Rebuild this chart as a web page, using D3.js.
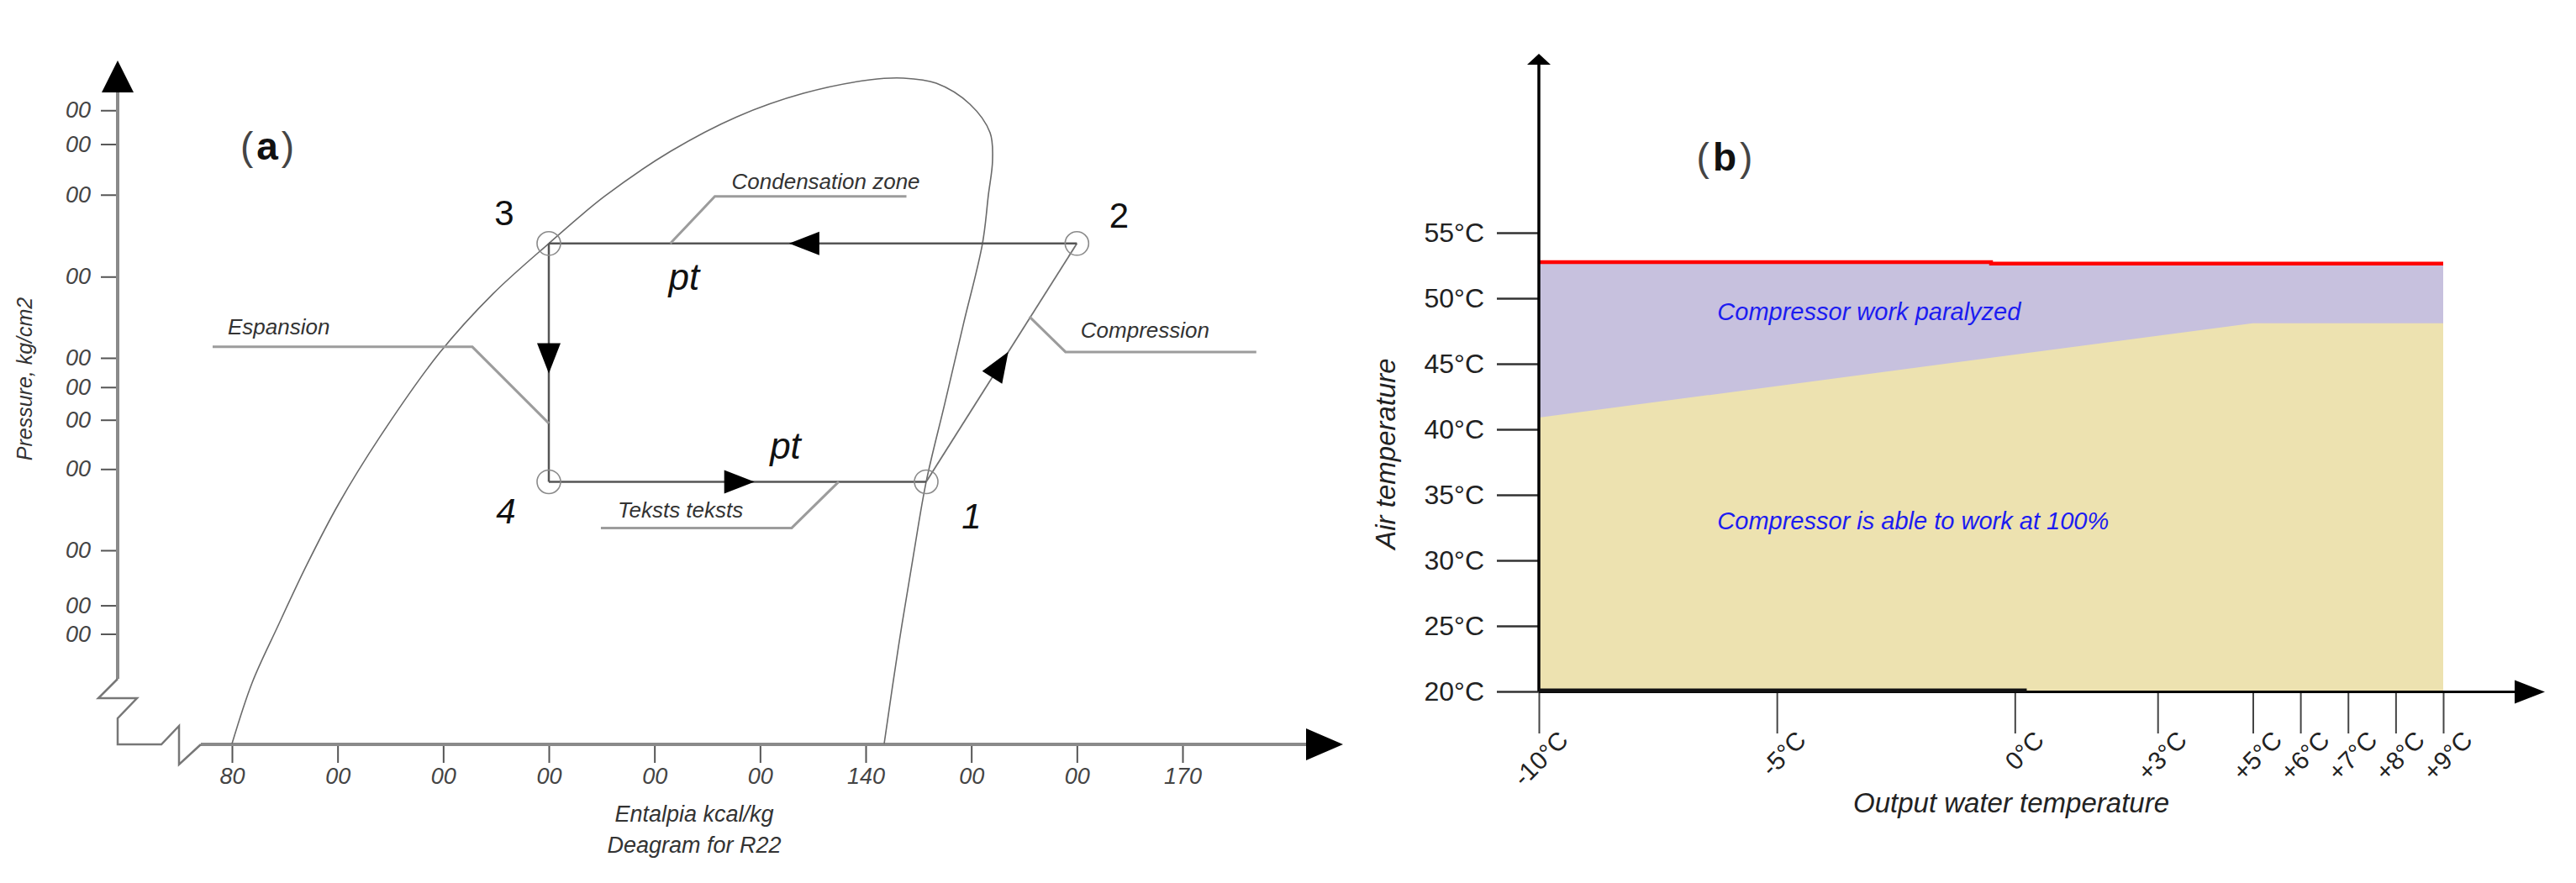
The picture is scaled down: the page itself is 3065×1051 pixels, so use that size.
<!DOCTYPE html>
<html><head><meta charset="utf-8">
<script src="https://cdnjs.cloudflare.com/ajax/libs/d3/7.8.5/d3.min.js"></script>
<style>body{margin:0;background:#fff;}svg{display:block;}</style>
</head><body>
<svg id="c" width="3065" height="1051"></svg>
<script>
// ================= DATA =================
// Panel (a): p-h diagram for R22
const enthalpyTicks = [80, 90, 100, 110, 120, 130, 140, 150, 160, 170];
const enthalpyTickLabels = ["80", "00", "00", "00", "00", "00", "140", "00", "00", "170"];
const pressureTicks = [24.4, 21.6, 18.0, 13.4, 10.0, 9.0, 8.0, 6.7, 5.0, 4.1, 3.7];
const pressureTickLabels = ["00", "00", "00", "00", "00", "00", "00", "00", "00", "00", "00"];
// saturation dome (enthalpy, pressure)
const domeH = [80, 81.9, 84.3, 87.1, 90.1, 94.0, 99.65, 104.7, 110.0, 115.25, 121.54, 127.82, 134.11, 140.4, 143.58, 146.68, 149.87, 151.78, 152.01, 151.62, 151.06, 149.23, 147.48, 145.73, 144.53, 143.1, 141.75];
const domeP = [2.49, 3.10, 3.79, 4.75, 5.91, 7.52, 10.18, 12.59, 15.1, 17.88, 21.05, 23.84, 25.94, 27.23, 27.4, 26.9, 24.94, 22.5, 20.36, 17.99, 15.1, 11.25, 8.47, 6.4, 4.92, 3.53, 2.49];
// refrigeration cycle points
const cycleNames = ["1", "2", "3", "4"];
const cycleH = [145.73, 160, 110, 110];
const cycleP = [6.4, 15.1, 15.1, 6.4];
// annotations
const noteTexts = ["Condensation zone", "Espansion", "Compression", "Teksts teksts"];
const noteH = [121.5, 110, 155.5, 137.45];
const noteP = [15.1, 7.9, 11.6, 6.4];
const ptH = [122.8, 132.4];
const ptP = [15.1, 6.4];

// Panel (b): compressor operating envelope
const waterTicks = [-10, -5, 0, 3, 5, 6, 7, 8, 9];
const waterTickLabels = ["-10°C", "-5°C", "0°C", "+3°C", "+5°C", "+6°C", "+7°C", "+8°C", "+9°C"];
const airTicks = [20, 25, 30, 35, 40, 45, 50, 55];
const airTickLabels = ["20°C", "25°C", "30°C", "35°C", "40°C", "45°C", "50°C", "55°C"];
const boundaryX = [-10, 5, 9];
const boundaryY = [40.9, 48.1, 48.1];
const limitX = [-10, -0.5, -0.5, 9];
const limitY = [52.75, 52.75, 52.65, 52.65];
const regionTexts = ["Compressor work paralyzed", "Compressor is able to work at 100%"];
const regionX = [-6.25, -6.25];
const regionY = [48.33, 32.37];

// ================= DRAW =================
const FONT = "'Liberation Sans', Arial, Helvetica, sans-serif";
const svg = d3.select("#c");
svg.append("rect").attr("width", 3065).attr("height", 1051).attr("fill", "#fff");

function tri(tip, dir, len, half) {
  const [tx, ty] = tip, [ux, uy] = dir;
  const bx = tx - ux * len, by = ty - uy * len, nx = -uy, ny = ux;
  return `M${tx},${ty}L${bx + nx * half},${by + ny * half}L${bx - nx * half},${by - ny * half}Z`;
}

// ---------- Panel (a) ----------
const xA = d3.scaleLinear().domain([80, 170]).range([276, 1407]);
const yA = d3.scaleLog().domain([2.5, 30]).range([884, 63]);
const ox = 140, oy = 886;
const gA = svg.append("g");

// y axis ticks
const yAx = gA.append("g").attr("transform", `translate(${ox},0)`)
  .call(d3.axisLeft(yA).tickValues(pressureTicks).tickFormat((d, i) => pressureTickLabels[i]).tickSize(20).tickPadding(12));
yAx.select(".domain").remove();
yAx.selectAll("line").attr("stroke", "#555").attr("stroke-width", 2);
yAx.selectAll("text").attr("font-family", FONT).attr("font-size", 27).attr("font-style", "italic").attr("fill", "#444");

// x axis ticks
const xAx = gA.append("g").attr("transform", `translate(0,${oy})`)
  .call(d3.axisBottom(xA).tickValues(enthalpyTicks).tickFormat((d, i) => enthalpyTickLabels[i]).tickSize(22).tickPadding(6));
xAx.select(".domain").remove();
xAx.selectAll("line").attr("stroke", "#555").attr("stroke-width", 2);
xAx.selectAll("text").attr("font-family", FONT).attr("font-size", 27).attr("font-style", "italic").attr("fill", "#444");

// axis lines with breaks
gA.append("line").attr("x1", ox).attr("y1", 108).attr("x2", ox).attr("y2", oy - 78)
  .attr("stroke", "#8a8a8a").attr("stroke-width", 4);
gA.append("line").attr("x1", ox + 99).attr("y1", oy).attr("x2", 1556).attr("y2", oy)
  .attr("stroke", "#8a8a8a").attr("stroke-width", 4);
const brk = [[0, -78], [-23, -55], [23, -55], [0, -31], [0, 0], [52, 0], [73, -22], [73, 24], [99, 0]];
gA.append("path").attr("d", d3.line()(brk.map(p => [ox + p[0], oy + p[1]])))
  .attr("fill", "none").attr("stroke", "#777").attr("stroke-width", 2.5);
gA.append("path").attr("d", tri([ox, 72], [0, -1], 38, 19)).attr("fill", "#000");
gA.append("path").attr("d", tri([1598, oy], [1, 0], 44, 19)).attr("fill", "#000");

// dome
const domePts = domeH.map((h, i) => [xA(h), yA(domeP[i])]);
gA.append("path").attr("d", d3.line().curve(d3.curveCatmullRom.alpha(0.5))(domePts))
  .attr("fill", "none").attr("stroke", "#6a6a6a").attr("stroke-width", 1.6);

// cycle
const cyc = cycleH.map((h, i) => [xA(h), yA(cycleP[i])]);
const segs = [[0, 1], [1, 2], [2, 3], [3, 0]];
segs.forEach(([a, b], k) => {
  gA.append("line").attr("x1", cyc[a][0]).attr("y1", cyc[a][1]).attr("x2", cyc[b][0]).attr("y2", cyc[b][1])
    .attr("stroke", k === 0 ? "#707070" : "#555").attr("stroke-width", k === 0 ? 1.8 : 2.5);
});
// leader lines
const leaderOff = [
  [[0, 0], [53, -56], [281, -56]],
  [[0, 0], [-91, -91], [-400, -91]],
  [[0, 0], [43, 42], [270, 42]],
  [[0, 0], [-56, 55], [-283, 55]]
];
const textOff = [[73, -65], [-382, -106], [61, 25], [-263, 43]];
noteTexts.forEach((t, i) => {
  const ax = xA(noteH[i]), ay = yA(noteP[i]);
  const pts = leaderOff[i].map(p => [ax + p[0], ay + p[1]]);
  gA.append("path").attr("d", d3.line()(pts)).attr("fill", "none")
    .attr("stroke", "#9c9c9c").attr("stroke-width", 3);
  gA.append("text").attr("x", ax + textOff[i][0]).attr("y", ay + textOff[i][1])
    .attr("font-family", FONT).attr("font-size", 26).attr("font-style", "italic").attr("fill", "#333").text(t);
});
// arrows on cycle
segs.forEach(([a, b]) => {
  const A = cyc[a], B = cyc[b], f = 0.545;
  const dx = B[0] - A[0], dy = B[1] - A[1], L = Math.hypot(dx, dy);
  const tip = [A[0] + dx * f, A[1] + dy * f];
  gA.append("path").attr("d", tri(tip, [dx / L, dy / L], 36, 14)).attr("fill", "#000");
});
// circles
cyc.forEach(p => gA.append("circle").attr("cx", p[0]).attr("cy", p[1]).attr("r", 14)
  .attr("fill", "none").attr("stroke", "#8a8a8a").attr("stroke-width", 1.6));
// point numbers
const numOff = [[54, 56], [50, -19], [-53, -22], [-51, 50]];
const numItalic = [true, false, false, true];
cycleNames.forEach((n, i) => {
  gA.append("text").attr("x", cyc[i][0] + numOff[i][0]).attr("y", cyc[i][1] + numOff[i][1])
    .attr("text-anchor", "middle").attr("font-family", FONT).attr("font-size", 42)
    .attr("font-style", numItalic[i] ? "italic" : "normal").attr("fill", "#111").text(n);
});
// pt labels
const ptDy = [55, -27];
ptH.forEach((h, i) => {
  gA.append("text").attr("x", xA(h)).attr("y", yA(ptP[i]) + ptDy[i]).attr("text-anchor", "middle")
    .attr("font-family", FONT).attr("font-size", 44).attr("font-style", "italic").attr("fill", "#111").text("pt");
});
// titles
gA.append("text").attr("transform", "translate(38,451) rotate(-90)").attr("text-anchor", "middle")
  .attr("font-family", FONT).attr("font-size", 25).attr("font-style", "italic").attr("fill", "#333").text("Pressure, kg/cm2");
gA.append("text").attr("x", 826).attr("y", 978).attr("text-anchor", "middle")
  .attr("font-family", FONT).attr("font-size", 27).attr("font-style", "italic").attr("fill", "#333").text("Entalpia kcal/kg");
gA.append("text").attr("x", 826).attr("y", 1015).attr("text-anchor", "middle")
  .attr("font-family", FONT).attr("font-size", 27).attr("font-style", "italic").attr("fill", "#333").text("Deagram for R22");
function panelLabel(x, y, letter) {
  const t = svg.append("text").attr("x", x).attr("y", y).attr("text-anchor", "middle")
    .attr("font-family", FONT).attr("font-size", 46).attr("fill", "#111");
  t.append("tspan").attr("font-weight", 300).attr("fill", "#444").text("(");
  t.append("tspan").attr("dx", 4).attr("font-weight", "bold").text(letter);
  t.append("tspan").attr("dx", 4).attr("font-weight", 300).attr("fill", "#444").text(")");
}
panelLabel(318, 190, "a");

// ---------- Panel (b) ----------
const xB = d3.scaleLinear().domain([-10, 9]).range([1831, 2907]);
const yB = d3.scaleLinear().domain([20, 55]).range([823, 277]);
const gB = svg.append("g");

gB.append("path").attr("d", d3.area().x(d => xB(d[0])).y0(yB(20)).y1(d => yB(d[1]))(limitX.map((x, i) => [x, limitY[i]])))
  .attr("fill", "#c7c1de");
gB.append("path").attr("d", d3.area().x(d => xB(d[0])).y0(yB(20)).y1(d => yB(d[1]))(boundaryX.map((x, i) => [x, boundaryY[i]])))
  .attr("fill", "#ede2b0");
gB.append("path").attr("d", d3.line().x(d => xB(d[0])).y(d => yB(d[1]))(limitX.map((x, i) => [x, limitY[i]])))
  .attr("fill", "none").attr("stroke", "#ff0000").attr("stroke-width", 4.5);

// y axis
const yBx = gB.append("g").attr("transform", `translate(${xB(-10)},0)`)
  .call(d3.axisLeft(yB).tickValues(airTicks).tickFormat((d, i) => airTickLabels[i]).tickSize(50).tickPadding(15));
yBx.select(".domain").remove();
yBx.selectAll("line").attr("stroke", "#333").attr("stroke-width", 2.5);
yBx.selectAll("text").attr("font-family", FONT).attr("font-size", 32).attr("fill", "#222");

// x axis
const xBx = gB.append("g").attr("transform", `translate(0,${yB(20)})`)
  .call(d3.axisBottom(xB).tickValues(waterTicks).tickFormat((d, i) => waterTickLabels[i]).tickSize(50));
xBx.select(".domain").remove();
xBx.selectAll("line").attr("stroke", "#444").attr("stroke-width", 2);
xBx.selectAll("text").attr("x", 0).attr("y", 0).attr("dy", null)
  .attr("transform", "translate(36,60) rotate(-45)").attr("text-anchor", "end")
  .attr("font-family", FONT).attr("font-size", 30).attr("fill", "#222");

// axis lines
gB.append("line").attr("x1", xB(-10)).attr("y1", 76).attr("x2", xB(-10)).attr("y2", yB(20))
  .attr("stroke", "#000").attr("stroke-width", 3.5);
gB.append("line").attr("x1", xB(-10)).attr("y1", yB(20) + 0.5).attr("x2", 2995).attr("y2", yB(20) + 0.5)
  .attr("stroke", "#000").attr("stroke-width", 3);
gB.append("line").attr("x1", xB(-10)).attr("y1", yB(20) - 1).attr("x2", xB(0.25)).attr("y2", yB(20) - 1)
  .attr("stroke", "#111").attr("stroke-width", 5);
gB.append("path").attr("d", tri([xB(-10), 64], [0, -1], 13, 14)).attr("fill", "#000");
gB.append("path").attr("d", tri([3028, yB(20) + 0.5], [1, 0], 36, 14)).attr("fill", "#000");

// region labels
regionTexts.forEach((t, i) => {
  gB.append("text").attr("x", xB(regionX[i])).attr("y", yB(regionY[i]))
    .attr("font-family", FONT).attr("font-size", 29).attr("font-style", "italic").attr("fill", "#1c1cf0").text(t);
});
// titles
gB.append("text").attr("transform", "translate(1660,540) rotate(-90)").attr("text-anchor", "middle")
  .attr("font-family", FONT).attr("font-size", 33).attr("font-style", "italic").attr("fill", "#222").text("Air temperature");
gB.append("text").attr("x", 2393).attr("y", 967).attr("text-anchor", "middle")
  .attr("font-family", FONT).attr("font-size", 33).attr("font-style", "italic").attr("fill", "#222").text("Output water temperature");
panelLabel(2052, 203, "b");
</script>
</body></html>
